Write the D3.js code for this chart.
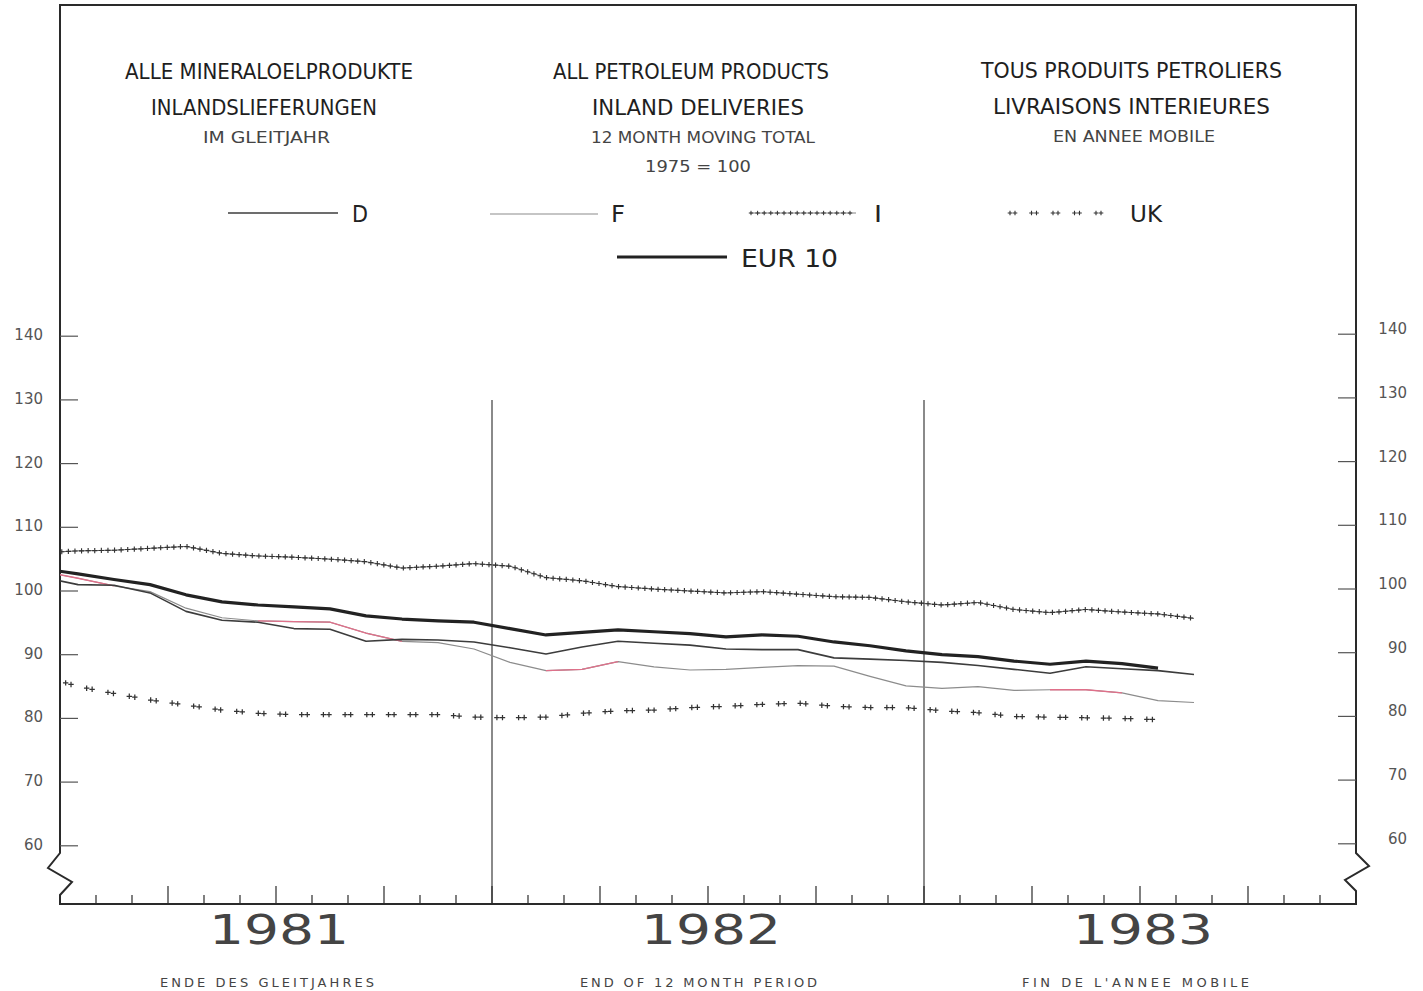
<!DOCTYPE html>
<html><head><meta charset="utf-8">
<script src="https://cdn.jsdelivr.net/npm/d3@7"></script>
<style>
html,body{margin:0;padding:0;background:#fff;}
svg{display:block;}
text{font-family:"DejaVu Sans","Liberation Sans",sans-serif;}
</style></head><body>
<svg id="chart" width="1423" height="991"></svg>
<script>
// ---------- DATA ----------
const months = ["1980-12",
  "1981-01","1981-02","1981-03","1981-04","1981-05","1981-06","1981-07","1981-08","1981-09","1981-10","1981-11","1981-12",
  "1982-01","1982-02","1982-03","1982-04","1982-05","1982-06","1982-07","1982-08","1982-09","1982-10","1982-11","1982-12",
  "1983-01","1983-02","1983-03","1983-04","1983-05","1983-06","1983-07","1983-08"];
const seriesD   = [102.2,101.0,100.9,99.7,96.8,95.4,95.1,94.1,94.0,92.1,92.4,92.3,92.0,91.1,90.1,91.2,92.1,91.8,91.5,90.9,90.8,90.8,89.5,89.3,89.1,88.8,88.3,87.7,87.1,88.1,87.8,87.5,86.9];
const seriesF   = [103.1,102.0,100.8,99.9,97.3,95.8,95.3,95.2,95.1,93.4,92.1,91.9,90.9,88.8,87.5,87.7,88.9,88.1,87.6,87.7,88.0,88.3,88.2,86.6,85.1,84.7,85.0,84.4,84.5,84.5,84.0,82.8,82.5];
const seriesI   = [106.0,106.3,106.4,106.7,107.0,105.9,105.5,105.3,105.0,104.6,103.6,103.9,104.3,103.9,102.1,101.6,100.7,100.3,100.0,99.7,99.9,99.5,99.1,99.0,98.3,97.8,98.2,97.1,96.6,97.1,96.7,96.4,95.7];
const seriesUK  = [86.7,85.0,83.9,82.9,82.1,81.3,80.8,80.6,80.6,80.6,80.6,80.6,80.2,80.1,80.2,80.8,81.2,81.3,81.7,81.9,82.2,82.4,81.9,81.7,81.7,81.2,80.9,80.3,80.2,80.1,80.0,79.8];
const seriesEUR = [103.5,102.7,101.8,101.0,99.4,98.3,97.8,97.5,97.2,96.1,95.6,95.3,95.1,94.1,93.1,93.5,93.9,93.6,93.3,92.8,93.1,92.9,92.0,91.4,90.6,90.0,89.7,89.0,88.5,89.0,88.6,87.9];
const pinkSpansF = [["1980-12","1981-02"],["1981-06","1981-10"],["1982-02","1982-04"],["1983-04","1983-06"]];
const yTicks = [60,70,80,90,100,110,120,130,140];
const yearLabels = ["1981","1982","1983"];
const titleDE = ["ALLE MINERALOELPRODUKTE","INLANDSLIEFERUNGEN","IM GLEITJAHR"];
const titleEN = ["ALL PETROLEUM PRODUCTS","INLAND DELIVERIES","12 MONTH MOVING TOTAL","1975 = 100"];
const titleFR = ["TOUS PRODUITS PETROLIERS","LIVRAISONS INTERIEURES","EN ANNEE MOBILE"];
const footLabels = ["ENDE DES GLEITJAHRES","END OF 12 MONTH PERIOD","FIN DE L'ANNEE MOBILE"];
const legendNames = ["D","F","I","UK","EUR 10"];

// ---------- LAYOUT ----------
const svg = d3.select("#chart");
const L = 60, R = 1356, T = 5, B = 904;
const x = d3.scaleLinear().domain([0, 36]).range([L, R]);
const y = d3.scaleLinear().domain([60, 140]).range([845.8, 336.2]);
const yR = d3.scaleLinear().domain([60, 140]).range([843.8, 334.2]);
const mPos = m => { const [yy, mm] = m.split("-").map(Number); return (yy - 1981) * 12 + (mm - 1) + 0.5; };

svg.append("rect").attr("width", 1423).attr("height", 991).attr("fill", "#fff");

svg.append("defs").append("clipPath").attr("id", "plotclip")
  .append("rect").attr("x", L).attr("y", T).attr("width", R - L).attr("height", B - T);

// frame
const ink = "#2a2a2a";
svg.append("path")
  .attr("d", `M${L},${B} L${L},895 L72,882 L48,868 L${L},853 L${L},${T} L${R},${T} L${R},853 L1369,866 L1345,880 L${R},891 L${R},${B} Z`)
  .attr("fill", "none").attr("stroke", ink).attr("stroke-width", 2);

// bottom monthly ticks
const monthTicks = d3.range(1, 36);
svg.append("g").selectAll("line").data(monthTicks).join("line")
  .attr("x1", d => x(d)).attr("x2", d => x(d))
  .attr("y1", B).attr("y2", d => B - (d % 3 === 0 ? 18 : 9))
  .attr("stroke", ink).attr("stroke-width", 1.2);

// year separators
svg.append("g").selectAll("line").data([12, 24]).join("line")
  .attr("x1", d => x(d)).attr("x2", d => x(d))
  .attr("y1", y(130)).attr("y2", B)
  .attr("stroke", ink).attr("stroke-width", 1.1);

// y ticks + labels
const gy = svg.append("g");
gy.selectAll("line.l").data(yTicks).join("line").attr("class", "l")
  .attr("x1", L).attr("x2", L + 18).attr("y1", d => y(d)).attr("y2", d => y(d))
  .attr("stroke", "#555").attr("stroke-width", 1.2);
gy.selectAll("line.r").data(yTicks).join("line").attr("class", "r")
  .attr("x1", R - 18).attr("x2", R).attr("y1", d => yR(d)).attr("y2", d => yR(d))
  .attr("stroke", "#555").attr("stroke-width", 1.2);
gy.selectAll("text.l").data(yTicks).join("text").attr("class", "l")
  .attr("x", 43).attr("y", d => y(d) + 4)
  .attr("text-anchor", "end").attr("font-size", 15).attr("fill", "#555").text(d => d);
gy.selectAll("text.r").data(yTicks).join("text").attr("class", "r")
  .attr("x", 1407).attr("y", d => yR(d))
  .attr("text-anchor", "end").attr("font-size", 15).attr("fill", "#555").text(d => d);

// year labels
svg.append("g").selectAll("text").data(yearLabels).join("text")
  .attr("x", (d, i) => x(6 + 12 * i) + 3).attr("y", 944)
  .attr("text-anchor", "middle").attr("font-family", "Liberation Sans, sans-serif")
  .attr("font-size", 40).attr("fill", "#444")
  .attr("textLength", 140).attr("lengthAdjust", "spacingAndGlyphs").text(d => d);

// footer labels
const footPos = [[267, 214], [698.5, 237], [1135.5, 227]];
svg.append("g").selectAll("text").data(footLabels).join("text")
  .attr("x", (d, i) => footPos[i][0]).attr("y", 987)
  .attr("text-anchor", "middle").attr("font-size", 13).attr("fill", "#444")
  .attr("textLength", (d, i) => footPos[i][1]).attr("lengthAdjust", "spacing").text(d => d);

// titles
function titleBlock(lines, specs) {
  svg.append("g").selectAll("text").data(lines).join("text")
    .attr("x", (d, i) => specs[i].cx).attr("y", (d, i) => specs[i].by)
    .attr("text-anchor", "middle").attr("font-size", (d, i) => specs[i].fs)
    .attr("fill", (d, i) => specs[i].fs > 18 ? "#1e1e1e" : "#444")
    .attr("font-stretch", "condensed")
    .attr("textLength", (d, i) => specs[i].w).attr("lengthAdjust", "spacingAndGlyphs")
    .text(d => d);
}
titleBlock(titleDE, [{cx: 269, by: 79, fs: 22, w: 288}, {cx: 264, by: 115, fs: 22, w: 226}, {cx: 266.5, by: 143, fs: 15, w: 127}]);
titleBlock(titleEN, [{cx: 691, by: 79, fs: 22, w: 276}, {cx: 698, by: 115, fs: 22, w: 212}, {cx: 703, by: 143, fs: 15, w: 224}, {cx: 698, by: 172, fs: 15, w: 106}]);
titleBlock(titleFR, [{cx: 1131.5, by: 78, fs: 22, w: 301}, {cx: 1131.5, by: 114, fs: 22, w: 277}, {cx: 1134, by: 142, fs: 15, w: 162}]);

// ---------- SERIES ----------
const line = d3.line().x(d => x(d.m)).y(d => y(d.v));
const toPts = arr => arr.map((v, i) => ({m: mPos(months[i]), v}));

function crossD(node, spacing, offset, pairGap, arm) {
  const len = node.getTotalLength();
  let d = "";
  for (let s = offset; s <= len; s += spacing) {
    const ts = pairGap ? [s, s + pairGap] : [s];
    for (const t of ts) {
      if (t > len) continue;
      const p = node.getPointAtLength(t);
      d += `M${p.x - arm},${p.y}h${2 * arm}M${p.x},${p.y - arm}v${2 * arm}`;
    }
  }
  return d;
}

const plot = svg.append("g").attr("clip-path", "url(#plotclip)");

// F (light)
plot.append("path").attr("d", line(toPts(seriesF))).attr("fill", "none")
  .attr("stroke", "#8c8c8c").attr("stroke-width", 1.2).attr("stroke-linejoin", "round");
// pink fragments on F
pinkSpansF.forEach(([a, b]) => {
  const i0 = months.indexOf(a), i1 = months.indexOf(b);
  const pts = toPts(seriesF).slice(i0, i1 + 1);
  plot.append("path").attr("d", line(pts)).attr("fill", "none")
    .attr("stroke", "#e0708a").attr("stroke-width", 1.3);
});
// D
plot.append("path").attr("d", line(toPts(seriesD))).attr("fill", "none")
  .attr("stroke", "#3c3c3c").attr("stroke-width", 1.6).attr("stroke-linejoin", "round");
// EUR 10
plot.append("path").attr("d", line(toPts(seriesEUR))).attr("fill", "none")
  .attr("stroke", "#222").attr("stroke-width", 3.2).attr("stroke-linejoin", "round");
// I
const pI = plot.append("path").attr("d", line(toPts(seriesI))).attr("fill", "none")
  .attr("stroke", "#555").attr("stroke-width", 0.9);
plot.append("path").attr("d", crossD(pI.node(), 6.6, 0, 0, 2.6)).attr("fill", "none")
  .attr("stroke", "#333").attr("stroke-width", 1.15);
// UK
const pUK = plot.append("path").attr("d", line(toPts(seriesUK))).attr("fill", "none").attr("stroke", "none");
plot.append("path").attr("d", crossD(pUK.node(), 21.7, 3, 5.6, 2.7)).attr("fill", "none")
  .attr("stroke", "#333").attr("stroke-width", 1.25);

// ---------- LEGEND ----------
const lg = svg.append("g");
const lgText = (t, xx, yy, fs, w) => lg.append("text").attr("x", xx).attr("y", yy)
  .attr("font-size", fs).attr("fill", "#222").attr("font-stretch", "condensed")
  .attr("textLength", w).attr("lengthAdjust", "spacingAndGlyphs").text(t);
lg.append("line").attr("x1", 228).attr("x2", 338).attr("y1", 213).attr("y2", 213).attr("stroke", "#3c3c3c").attr("stroke-width", 1.6);
lgText(legendNames[0], 352, 222, 23, 16);
lg.append("line").attr("x1", 490).attr("x2", 598).attr("y1", 214).attr("y2", 214).attr("stroke", "#8c8c8c").attr("stroke-width", 1.2);
lgText(legendNames[1], 611, 222, 23, 14);
const liI = lg.append("path").attr("d", "M750,213H856").attr("stroke", "#666").attr("stroke-width", 0.8);
lg.append("path").attr("d", crossD(liI.node(), 6.6, 1, 0, 2.2)).attr("stroke", "#333").attr("stroke-width", 1);
lgText(legendNames[2], 874, 222, 23, 8);
const liUK = lg.append("path").attr("d", "M1010,213H1108").attr("stroke", "none");
lg.append("path").attr("d", crossD(liUK.node(), 21.5, 0, 5, 2.3)).attr("stroke", "#333").attr("stroke-width", 1.1);
lgText(legendNames[3], 1130, 222, 23, 32);
lg.append("line").attr("x1", 617).attr("x2", 727).attr("y1", 257).attr("y2", 257).attr("stroke", "#222").attr("stroke-width", 3.2);
lgText(legendNames[4], 741, 267, 24, 97);
</script>
</body></html>
